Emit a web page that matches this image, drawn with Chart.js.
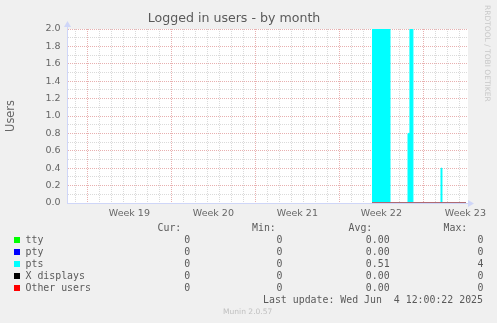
<!DOCTYPE html>
<html>
<head>
<meta charset="utf-8">
<script src="https://cdn.jsdelivr.net/npm/chart.js@4.4.0/dist/chart.umd.min.js"></script>
<style>
  html, body { margin: 0; padding: 0; background: #f0f0f0; }
  #wrap { position: relative; width: 497px; height: 323px; overflow: hidden; }
  #wrap canvas { position: absolute; left: 0; top: 0; }
  .txt { position: absolute; font-family: 'DejaVu Sans Mono', monospace; font-size: 9.9px; line-height: 12px; color: #5a5a5a; white-space: pre; }
  .sw { position: absolute; width: 6px; height: 6px; }
  .side { position: absolute; font-family: 'DejaVu Sans', sans-serif; white-space: pre; }
</style>
</head>
<body>
<div id="wrap">
  <canvas id="chart"></canvas>
  <div id="legend"></div>
  <div class="side" style="left:483px; top:5px; font-size:7.5px; line-height:9px; writing-mode:vertical-rl; color:#c8c8c8;">RRDTOOL / TOBI OETIKER</div>
  <div class="side" style="left:223px; top:307px; font-size:7.55px; line-height:10px; color:#c0c0c0;">Munin 2.0.57</div>
</div>
<script>
// x values are days counted from the left edge of the month graph
const DAYS_SHOWN = 33.42;
const weekLabels = ['Week 19', 'Week 20', 'Week 21', 'Week 22', 'Week 23'];
const weekStarts = [1.7, 8.7, 15.7, 22.7, 29.7];

const yMajorTicks = [0.0, 0.2, 0.4, 0.6, 0.8, 1.0, 1.2, 1.4, 1.6, 1.8, 2.0];
const yMinorTicks = [0.1, 0.3, 0.5, 0.7, 0.9, 1.1, 1.3, 1.5, 1.7, 1.9];

// pts (area) - step values, each holds until the next time
const ptsDays  = [25.42, 26.92, 28.42, 28.58, 28.83, 31.17, 31.25, 33.25];
const ptsUsers = [3, 0, 0.8, 4, 0, 0.4, 0, 0];

// the other sources stay at 0 where data exists
const zeroDays      = [25.42, 33.25];
const ttyUsers      = [0, 0];
const ptyUsers      = [0, 0];
const xdisplayUsers = [0, 0];
const otherUsers    = [0, 0];

// legend table
const seriesNames  = ['tty', 'pty', 'pts', 'X displays', 'Other users'];
const seriesColors = ['#00ff00', '#0000ff', '#00ffff', '#000000', '#ff0000'];
const curValues = ['0', '0', '0', '0', '0'];
const minValues = ['0', '0', '0', '0', '0'];
const avgValues = ['0.00', '0.00', '0.51', '0.00', '0.00'];
const maxValues = ['0', '0', '4', '0', '0'];
const lastUpdate = 'Last update: Wed Jun  4 12:00:22 2025';

const FONT_COLOR = '#666666';
const AXIS_COLOR = '#cfd6f8';
const MAJOR_GRID = '#e8b0b0';
const MINOR_GRID = '#dadada';

function pairs(xs, ys) {
    return xs.map(function(x, i) { return { x: x, y: ys[i] }; });
}

function isWeekStart(v) {
    return weekStarts.some(function(w) { return Math.abs(w - v) < 0.01; });
}

var dayLines = [];
for (var k = 0; weekStarts[0] - 1 + k < DAYS_SHOWN; k++) {
    dayLines.push(Math.round((weekStarts[0] - 1 + k) * 100) / 100);
}
var yTicks = yMajorTicks.concat(yMinorTicks).sort(function(a, b) { return a - b; });

// white canvas behind the plot and the axis arrows
const munGraph = {
    id: 'munGraph',
    beforeDraw(chart) {
        const a = chart.chartArea, c = chart.ctx;
        c.save();
        c.fillStyle = '#ffffff';
        c.fillRect(a.left, a.top, a.right - a.left, a.bottom - a.top);
        c.restore();
    },
    afterDraw(chart) {
        const a = chart.chartArea, c = chart.ctx;
        c.save();
        c.strokeStyle = AXIS_COLOR;
        c.fillStyle = AXIS_COLOR;
        c.lineWidth = 1;
        c.beginPath();
        c.moveTo(a.left + 0.5, a.top);
        c.lineTo(a.left + 0.5, a.top - 2);
        c.stroke();
        c.beginPath();
        c.moveTo(a.left - 3, a.top - 2);
        c.lineTo(a.left + 4, a.top - 2);
        c.lineTo(a.left + 0.5, a.top - 8);
        c.closePath();
        c.fill();
        c.beginPath();
        c.moveTo(a.right, a.bottom - 3);
        c.lineTo(a.right, a.bottom + 4);
        c.lineTo(a.right + 6, a.bottom + 0.5);
        c.closePath();
        c.fill();
        c.restore();
    }
};

function zeroLine(label, ys, color, width, order) {
    return {
        label: label,
        data: pairs(zeroDays, ys),
        borderColor: color,
        borderWidth: width,
        pointRadius: 0,
        fill: false,
        order: order
    };
}

new Chart(document.getElementById('chart'), {
    type: 'line',
    data: {
        datasets: [
            zeroLine('tty', ttyUsers, '#00ff00', 1, 3),
            zeroLine('pty', ptyUsers, '#0000ff', 1, 2),
            {
                label: 'pts',
                data: pairs(ptsDays, ptsUsers),
                stepped: true,
                borderColor: '#00ffff',
                backgroundColor: '#00ffff',
                borderWidth: 1,
                pointRadius: 0,
                fill: 'origin',
                order: 4
            },
            zeroLine('X displays', xdisplayUsers, '#000000', 1, 1),
            zeroLine('Other users', otherUsers, '#e47878', 1.6, 0)
        ]
    },
    options: {
        responsive: true,
        maintainAspectRatio: false,
        animation: false,
        layout: { padding: { left: 0, right: 29, top: 0, bottom: 100 } },
        plugins: {
            legend: { display: false },
            tooltip: { enabled: false },
            title: {
                display: true,
                text: 'Logged in users - by month',
                color: '#5a5a5a',
                font: { family: 'DejaVu Sans', size: 12.6, weight: 'normal' },
                padding: { top: 11.5, bottom: 2.4 }
            }
        },
        scales: {
            x: {
                type: 'linear',
                position: 'bottom',
                min: 0,
                max: DAYS_SHOWN,
                afterBuildTicks: function(s) { s.ticks = dayLines.map(function(v) { return { value: v }; }); },
                ticks: { display: false },
                grid: {
                    color: function(ctx) { return isWeekStart(ctx.tick.value) ? MAJOR_GRID : MINOR_GRID; },
                    drawTicks: false
                },
                border: { color: AXIS_COLOR, dash: [1, 1] },
                afterFit: function(s) { s.height = 0; }
            },
            x2: {
                type: 'linear',
                position: 'bottom',
                min: 0,
                max: DAYS_SHOWN,
                afterBuildTicks: function(s) { s.ticks = weekStarts.map(function(w) { return { value: w + 3.5 }; }); },
                ticks: {
                    callback: function(v, i) { return weekLabels[i]; },
                    autoSkip: false,
                    maxRotation: 0,
                    padding: 4.5,
                    color: FONT_COLOR,
                    font: { family: 'DejaVu Sans', size: 9.5 }
                },
                grid: { display: false, drawTicks: false },
                border: { display: false },
                afterFit: function(s) { s.height = 20; }
            },
            y: {
                min: 0,
                max: 2,
                afterBuildTicks: function(s) { s.ticks = yTicks.map(function(v) { return { value: v }; }); },
                ticks: {
                    callback: function(v) {
                        return yMajorTicks.some(function(m) { return Math.abs(m - v) < 0.001; }) ? v.toFixed(1) : '';
                    },
                    autoSkip: false,
                    padding: 6.5,
                    color: FONT_COLOR,
                    font: { family: 'DejaVu Sans', size: 9.5 }
                },
                grid: {
                    color: function(ctx) {
                        return yMajorTicks.some(function(m) { return Math.abs(m - ctx.tick.value) < 0.001; }) ? MAJOR_GRID : MINOR_GRID;
                    },
                    drawTicks: false
                },
                border: { color: AXIS_COLOR, dash: [1, 1] },
                title: {
                    display: true,
                    text: 'Users',
                    color: FONT_COLOR,
                    font: { family: 'DejaVu Sans', size: 11.4 },
                    padding: { top: 4.2, bottom: 0 }
                },
                afterFit: function(s) { s.width = 67; }
            }
        }
    },
    plugins: [munGraph]
});

// legend table under the graph
(function() {
    var box = document.getElementById('legend');
    var html = '';
    function put(text, left, top) {
        html += '<div class="txt" style="left:' + left + 'px;top:' + top + 'px">' + text + '</div>';
    }
    function putRight(text, right, top) {
        html += '<div class="txt" style="right:' + (497 - right) + 'px;top:' + top + 'px">' + text + '</div>';
    }
    var headTop = 221.5;
    put('Cur:', 157.5, headTop);
    put('Min:', 252, headTop);
    put('Avg:', 348.5, headTop);
    put('Max:', 443.5, headTop);
    seriesNames.forEach(function(name, i) {
        var top = headTop + 12 * (i + 1);
        html += '<div class="sw" style="left:14px;top:' + (top + 3) + 'px;background:' + seriesColors[i] + '"></div>';
        put(name, 25.5, top);
        putRight(curValues[i], 190.3, top);
        putRight(minValues[i], 282.5, top);
        putRight(avgValues[i], 389.6, top);
        putRight(maxValues[i], 483.4, top);
    });
    putRight(lastUpdate, 483, headTop + 72);
    box.innerHTML = html;
})();
</script>
</body>
</html>
